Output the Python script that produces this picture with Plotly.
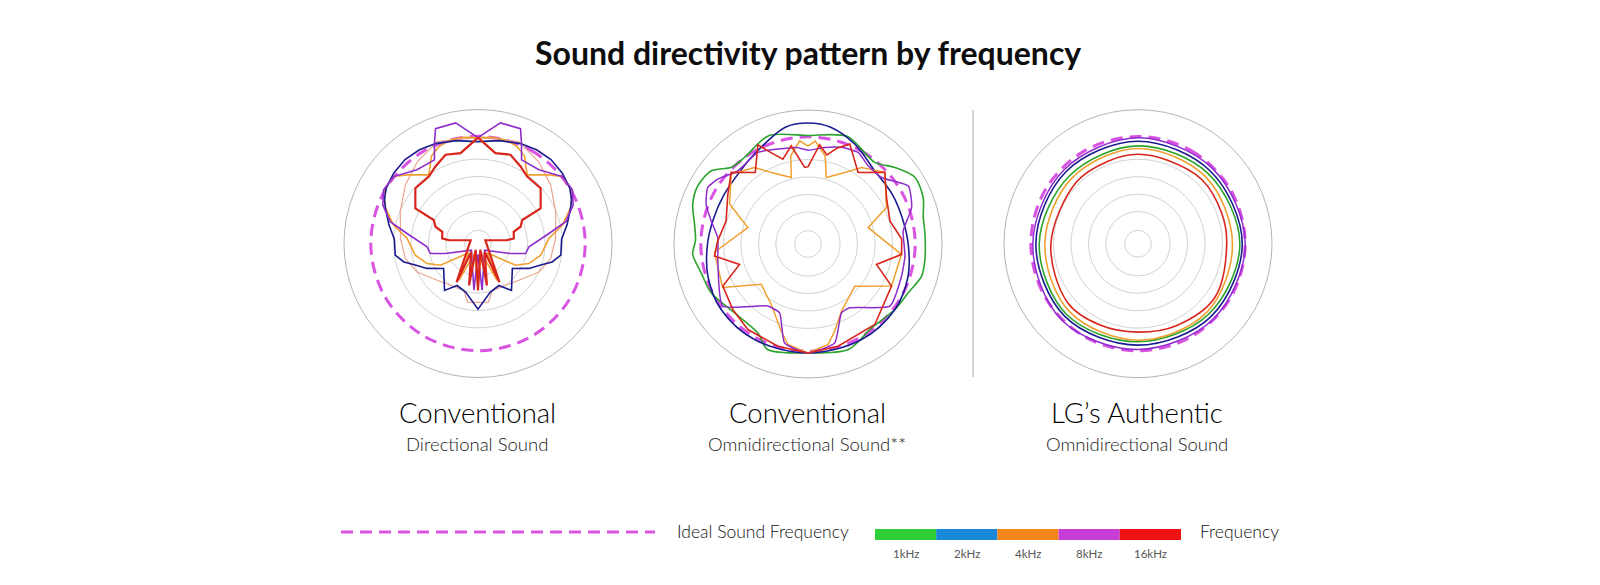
import plotly.graph_objects as go

W, H = 1600, 585

# ---------------- data ----------------
FREQ_LABELS = ["1kHz", "2kHz", "4kHz", "8kHz", "16kHz"]
FREQ_COLORS = ["#2fcf3a", "#1a88d8", "#f5861a", "#c63ed6", "#ee1212"]

PANEL_TITLES = ["Conventional", "Conventional", "LG\u2019s Authentic"]
PANEL_SUBTITLES = ["Directional Sound", "Omnidirectional Sound**", "Omnidirectional Sound"]

IDEAL_THETA = [0, 30, 60, 90, 120, 150, 180, 210, 240, 270, 300, 330, 360]
IDEAL_R = [80, 80, 80, 80, 80, 80, 80, 80, 80, 80, 80, 80, 80]

GRID_R = [10, 24, 37, 50, 63]

# Panel 1 : conventional directional
P1_SALMON_T = [0, 21.8, 36.6, 51, 67.7, 86.3, 101.7, 115, 132, 163, 170, 180, 190, 197, 228, 245, 258.3, 273.7, 292.3, 309, 323.4, 338.2, 360]
P1_SALMON_R = [79, 82, 76, 69.7, 62.7, 58, 55.4, 50.2, 41, 36.5, 44.5, 44, 44.5, 36.5, 41, 50.2, 55.4, 58, 62.7, 69.7, 76, 82, 79]

P1_ORANGE_T = [0, 8, 15, 22, 28, 35.6, 46, 51.6, 61, 69, 77.7, 86, 100.6, 111.5, 120, 135, 152.6, 160, 180, 200, 207.4, 225, 240, 248.5, 259.4, 274, 282.3, 291, 299, 308.4, 314, 324.4, 332, 338, 345, 352, 360]
P1_ORANGE_R = [79, 80, 80, 78, 74, 63, 73.7, 80.4, 80.5, 74, 64.5, 53, 47.6, 40.8, 32.4, 10, 31, 8, 31, 8, 31, 10, 32.4, 40.8, 47.6, 53, 64.5, 74, 80.5, 80.4, 73.7, 63, 74, 78, 80, 80, 79]

P1_NAVY_T = [0, 12, 23, 32, 41, 50, 59, 65, 69, 78, 87, 98, 104, 109, 116, 126, 144.5, 153.6, 165.7, 180, 194.3, 206.4, 215.5, 234, 244, 251, 256, 262, 273, 282, 291, 295, 301, 310, 319, 328, 337, 348, 360]
P1_NAVY_R = [76, 78.5, 81, 82.5, 83, 82, 80, 77, 74, 68, 62.5, 62.4, 57, 49.5, 42.4, 31.7, 43, 35, 37.4, 49, 37.4, 35, 43, 31.7, 42.4, 49.5, 57, 62.4, 62.5, 68, 74, 77, 80, 82, 83, 82.5, 81, 78.5, 76]

P1_PURPLE_T = [0, 10.5, 20.3, 23.4, 27.5, 39.6, 51.6, 60.4, 68, 76, 82, 93.8, 101.9, 107.2, 135, 175, 180, 185, 225, 252.8, 258.1, 266.2, 278, 284, 292, 299.6, 308.4, 320.4, 332.5, 336.6, 339.7, 349.5, 360]
P1_PURPLE_R = [79, 91.5, 91.4, 81.7, 70.4, 71.4, 80.4, 81, 76.6, 67.5, 53.5, 38.1, 36.3, 25.4, 7, 35, 8, 35, 7, 25.4, 36.3, 38.1, 53.5, 67.5, 76.6, 81, 80.4, 71.4, 70.4, 81.7, 91.4, 91.5, 79]

P1_RED_T = [0, 10.9, 20.1, 28.9, 36.3, 48.6, 52.2, 60.7, 62, 68.5, 72, 82, 83.4, 66, 151, 141, 168, 160, 180, 200, 192, 219, 209, 294, 276.6, 278, 288, 291.5, 298, 299.3, 307.8, 311.4, 323.7, 331.1, 339.9, 349.1, 360]
P1_RED_R = [79, 68.7, 70.5, 65.7, 62, 62.3, 59.2, 53.6, 37.4, 34.1, 28, 27, 22, 6, 33, 8, 32, 5, 35, 5, 32, 8, 33, 6, 22, 27, 28, 34.1, 37.4, 53.6, 59.2, 62.3, 62, 65.7, 70.5, 68.7, 79]

# Panel 2 : conventional omnidirectional
P2_GREEN_T = [0, 20, 39.3, 48.6, 58, 68, 77, 85, 97.5, 105.8, 116, 127, 142.9, 159, 180, 201, 209.4, 227, 243.3, 255, 265, 272, 280, 289, 297.8, 307, 315, 323.7, 340, 360]
P2_GREEN_R = [81, 85.5, 78.7, 86.4, 94, 92.7, 88.3, 87.6, 88, 88.1, 83.2, 81.2, 78.5, 84.3, 81.3, 84.3, 76.2, 75.2, 81, 82.6, 86.4, 84, 86, 91, 93, 90.6, 81, 80.1, 86, 81]

P2_NAVY_T = [0, 11, 25, 42, 60, 75, 90, 108, 127, 151, 180, 209, 233, 252, 270, 285, 300, 318, 327, 349, 360]
P2_NAVY_R = [90.3, 88.8, 82.3, 74, 73, 73, 74.8, 78.5, 81.2, 81.7, 81.3, 81.7, 81.2, 78.5, 75, 73, 72.7, 74.5, 77.3, 88.8, 90.3]

P2_ORANGE_T = [0, 4, 11, 15.4, 27.2, 35, 47, 65, 74.8, 96.3, 116.7, 132, 153.5, 163, 168.7, 180, 191.3, 197, 211.3, 229.2, 243, 265, 285.2, 297, 312.3, 325, 332.8, 345.9, 348.9, 355.4, 360]
P2_ORANGE_R = [73, 77, 67, 51.5, 60, 69.7, 78.4, 64.6, 46.5, 70.2, 69.8, 47, 56, 68, 76.5, 81.3, 76.5, 68.1, 52.8, 46.1, 71.5, 70.1, 46.5, 65.7, 77.5, 69.7, 60, 51.2, 67.1, 77.3, 73]

P2_PURPLE_T = [0, 9.8, 19, 28.7, 37.6, 47.9, 60, 70.6, 82.2, 97, 108.9, 127.2, 146.8, 154, 164.9, 180, 193.3, 202.4, 213, 234, 260.3, 274, 283.4, 291.3, 299.4, 305.7, 316.2, 331.3, 342.4, 353.1, 360]
P2_PURPLE_R = [70, 73.1, 76.3, 77.9, 73.6, 74, 86.5, 82, 71.7, 72.9, 73.8, 76.7, 56.9, 57.1, 76.5, 81.3, 75.9, 55.6, 55.2, 78.7, 68.3, 67.5, 74.3, 81.6, 85.9, 82.9, 75.7, 77.9, 74.3, 72.6, 70]

P2_RED_T = [0, 6.7, 12, 17, 22.7, 35, 47, 59.4, 74.3, 87, 96.3, 106.6, 116.7, 140.3, 163.6, 180, 196.4, 215.1, 229, 243.7, 253.4, 262.7, 272, 285.7, 301.8, 313, 323.6, 333.2, 336.7, 343.5, 350.3, 357.5, 360]
P2_RED_R = [57.6, 74.6, 68, 75, 80.8, 65.2, 78.4, 68.1, 63.5, 70, 70.3, 53.3, 69.8, 78.1, 79.5, 81.3, 79.5, 78, 74.4, 70.9, 53.3, 70.4, 67.4, 63.5, 70.4, 78.4, 66.3, 83, 75.7, 66, 74.4, 57.2, 57.6]

# Panel 3 : LG authentic omnidirectional
P3_PURPLE_T = [0, 45, 90, 135, 180, 225, 270, 315, 360]
P3_PURPLE_R = [79, 79, 80, 79.5, 79, 80.5, 78.5, 78, 79]
P3_NAVY_T = [0, 45, 90, 135, 180, 225, 270, 315, 360]
P3_NAVY_R = [76.5, 76.5, 77.8, 77, 75.7, 77, 76.2, 76, 76.5]
P3_GREEN_T = [0, 45, 90, 135, 180, 225, 270, 315, 360]
P3_GREEN_R = [73, 74, 76, 74.5, 73.2, 75, 73.7, 72, 73]
P3_ORANGE_T = [0, 45, 90, 135, 180, 225, 270, 315, 360]
P3_ORANGE_R = [71, 71, 70.5, 72.5, 72, 72, 69.5, 69.5, 71]
P3_RED_T = [0, 20, 45, 70, 90, 125, 155, 180, 205, 230, 270, 315, 340, 360]
P3_RED_R = [66.7, 66, 67.5, 66.5, 66.2, 70, 67.5, 66, 67, 68.5, 65, 65, 65.5, 66.7]

# ---------------- styles ----------------
NAVY = "#1b1b90"
PURPLE = "#8e2ccc"
ORANGE = "#f0a030"
RED = "#d8261c"
GREEN = "#2ca32c"
SALMON = "#eba58f"
IDEAL = "#d954e3"

fig = go.Figure()

def curve(sub, t, r, color, width, shape="linear", smoothing=1.0):
    line = dict(color=color, width=width, shape=shape)
    if shape == "spline":
        line["smoothing"] = smoothing
    fig.add_trace(go.Scatterpolar(theta=t, r=r, mode="lines", line=line,
                                  subplot=sub, showlegend=False, hoverinfo="skip"))

def ideal(sub):
    fig.add_trace(go.Scatterpolar(theta=IDEAL_THETA, r=IDEAL_R, mode="lines",
                                  line=dict(color=IDEAL, width=3, dash="12px,7px", shape="spline"),
                                  subplot=sub, showlegend=False, hoverinfo="skip"))

# panel 1
ideal("polar")
curve("polar", P1_SALMON_T, P1_SALMON_R, SALMON, 1.2)
curve("polar", P1_ORANGE_T, P1_ORANGE_R, ORANGE, 1.6)
curve("polar", P1_NAVY_T, P1_NAVY_R, NAVY, 1.6)
curve("polar", P1_PURPLE_T, P1_PURPLE_R, PURPLE, 1.6)
curve("polar", P1_RED_T, P1_RED_R, RED, 2.2)

# panel 2
ideal("polar2")
curve("polar2", P2_GREEN_T, P2_GREEN_R, GREEN, 1.6, "spline", 0.8)
curve("polar2", P2_NAVY_T, P2_NAVY_R, NAVY, 1.6, "spline", 1.0)
curve("polar2", P2_ORANGE_T, P2_ORANGE_R, ORANGE, 1.5)
curve("polar2", P2_PURPLE_T, P2_PURPLE_R, PURPLE, 1.5, "spline", 0.5)
curve("polar2", P2_RED_T, P2_RED_R, RED, 1.6)

# panel 3
ideal("polar3")
curve("polar3", P3_PURPLE_T, P3_PURPLE_R, PURPLE, 1.5, "spline", 1.0)
curve("polar3", P3_NAVY_T, P3_NAVY_R, NAVY, 1.6, "spline", 1.0)
curve("polar3", P3_GREEN_T, P3_GREEN_R, GREEN, 1.6, "spline", 1.0)
curve("polar3", P3_ORANGE_T, P3_ORANGE_R, ORANGE, 1.6, "spline", 1.0)
curve("polar3", P3_RED_T, P3_RED_R, RED, 1.6, "spline", 1.0)

# ---------------- layout ----------------
RADIUS = 134
CENTERS = [(470, 235.5), (800, 236), (1130, 235.7)]

def polar_layout(cx, cy):
    return dict(
        domain=dict(x=[(cx - RADIUS) / W, (cx + RADIUS) / W],
                    y=[1 - (cy + RADIUS) / H, 1 - (cy - RADIUS) / H]),
        bgcolor="white",
        radialaxis=dict(range=[0, 100], tickvals=GRID_R, showticklabels=False, ticks="",
                        showline=False, gridcolor="#d2d2d2", gridwidth=1),
        angularaxis=dict(rotation=90, direction="clockwise", showgrid=False,
                         showticklabels=False, ticks="", showline=True,
                         linecolor="#b5b5b5", linewidth=1),
    )

def px(x, y):
    return x / W, 1 - y / H

annotations = []
def text(x, y, s, size, color="#111", family="Lato", xanchor="center", weight="normal"):
    ax, ay = px(x, y)
    annotations.append(dict(x=ax, y=ay, xref="paper", yref="paper", text=s, showarrow=False,
                            xanchor=xanchor, yanchor="middle",
                            font=dict(size=size, color=color, family=family, weight=weight)))

text(800, 45, "Sound directivity pattern by frequency", 32, "#0d0d0d", weight=700)
for (cx, cy), t, st in zip(CENTERS, PANEL_TITLES, PANEL_SUBTITLES):
    text(cx - 1, 404, t, 27.5, "#000000", weight=300)
    text(cx - 1, 436, st, 18.5, "#1a1a1a", weight=300)

text(667, 523, "Ideal Sound Frequency", 17.5, "#111", xanchor="left", weight=300)
text(1190, 523, "Frequency", 17.5, "#111", xanchor="left", weight=300)

shapes = []
# separator between conventional and LG panels
shapes.append(dict(type="line", xref="paper", yref="paper",
                   x0=965 / W, x1=965 / W, y0=1 - 369 / H, y1=1 - 102 / H,
                   line=dict(color="#a8a8a8", width=1)))
# dashed ideal legend line
shapes.append(dict(type="line", xref="paper", yref="paper",
                   x0=333 / W, x1=647 / W, y0=1 - 524 / H, y1=1 - 524 / H,
                   line=dict(color=IDEAL, width=3, dash="12px,7px")))
# frequency colour bar
bar_x0, bar_x1 = 867, 1173
seg = (bar_x1 - bar_x0) / len(FREQ_COLORS)
for i, (c, lab) in enumerate(zip(FREQ_COLORS, FREQ_LABELS)):
    x0 = bar_x0 + i * seg
    shapes.append(dict(type="rect", xref="paper", yref="paper",
                       x0=x0 / W, x1=(x0 + seg) / W, y0=1 - 532 / H, y1=1 - 521 / H,
                       fillcolor=c, line=dict(width=0)))
    text(x0 + seg / 2, 545, lab, 11.5, "#555", weight=400)

fig.update_layout(
    width=W, height=H,
    margin=dict(l=0, r=0, t=0, b=0),
    paper_bgcolor="white", plot_bgcolor="white",
    polar=polar_layout(*CENTERS[0]),
    polar2=polar_layout(*CENTERS[1]),
    polar3=polar_layout(*CENTERS[2]),
    annotations=annotations,
    shapes=shapes,
    showlegend=False,
)

fig.write_html("out.html")
